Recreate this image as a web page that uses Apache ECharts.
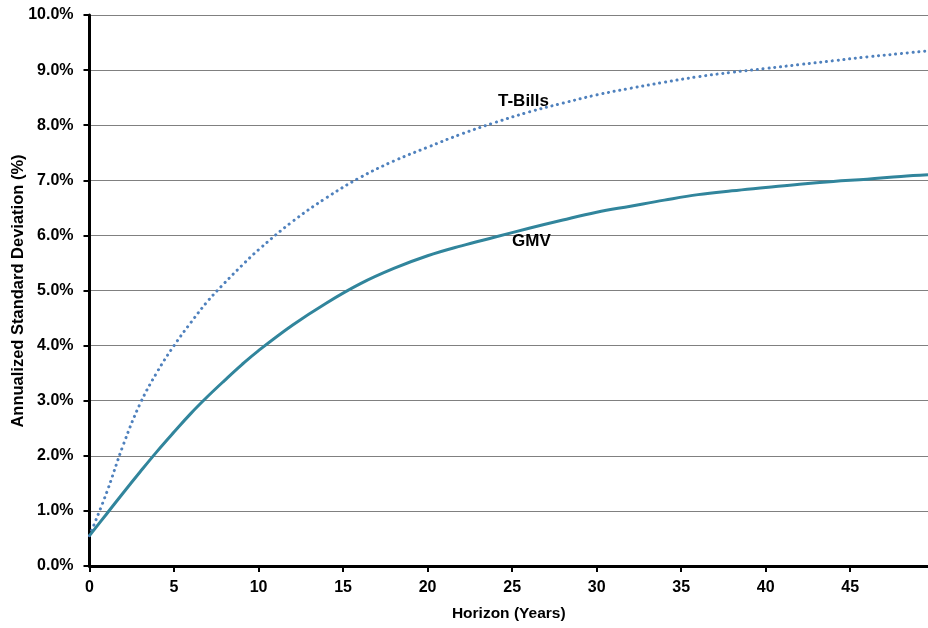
<!DOCTYPE html>
<html><head><meta charset="utf-8">
<script src="https://cdn.jsdelivr.net/npm/echarts@6/dist/echarts.min.js"></script>
<style>html,body{margin:0;padding:0;background:#fff}#c{width:928px;height:628px}</style>
</head><body><div id="c"></div>
<script>
const gmvYears = [0,1,2,3,4,5,6,7,8,9,10,12,14,16,18,20,22,24,26,28,30,32,34,36,38,40,42,44,46,48,49.6];
const gmvValues = [0.55,0.94,1.33,1.71,2.08,2.43,2.77,3.08,3.37,3.65,3.91,4.37,4.77,5.12,5.40,5.63,5.81,5.97,6.13,6.28,6.42,6.53,6.64,6.74,6.81,6.87,6.93,6.98,7.02,7.07,7.10];
const tbillYears = [0,1,2,3,4,5,6,7,8,9,10,12,14,16,18,20,22,24,26,28,30,32,34,36,38,40,42,44,46,48,49.6];
const tbillValues = [0.55,1.32,2.20,2.95,3.52,4.00,4.42,4.81,5.14,5.45,5.74,6.25,6.68,7.05,7.35,7.60,7.84,8.05,8.24,8.40,8.55,8.67,8.78,8.88,8.96,9.03,9.10,9.17,9.24,9.30,9.35];
const seriesNames = ['GMV','T-Bills'];
const xTitle = 'Horizon (Years)';
const yTitle = 'Annualized Standard Deviation (%)';

const font = 'Liberation Sans, Arial, sans-serif';
const chart = echarts.init(document.getElementById('c'), null, {renderer:'canvas'});
chart.setOption({
  animation:false,
  backgroundColor:'#fff',
  grid:{left:89.5, top:15, right:0, bottom:62, containLabel:false, outerBoundsMode:'none'},
  xAxis:{
    type:'value', min:0, max:49.6, interval:5,
    name:xTitle, nameLocation:'middle', nameGap:40,
    nameTextStyle:{fontFamily:font, fontWeight:'bold', fontSize:15.5, color:'#000'},
    axisLine:{lineStyle:{color:'#000', width:3}},
    axisTick:{show:true, length:6, lineStyle:{color:'#000', width:2}},
    axisLabel:{fontFamily:font, fontWeight:'bold', fontSize:16, color:'#000', margin:14, showMaxLabel:false},
    splitLine:{show:false}
  },
  yAxis:{
    type:'value', min:0, max:10, interval:1,
    name:'',
    axisLine:{show:true, lineStyle:{color:'#000', width:3}},
    axisTick:{show:true, length:6, lineStyle:{color:'#000', width:2}},
    axisLabel:{fontFamily:font, fontWeight:'bold', fontSize:16, color:'#000', margin:16,
      formatter:v=>v.toFixed(1)+'%'},
    splitLine:{show:true, lineStyle:{color:'#000', width:1, type:[1,1]}}
  },
  series:[
    {name:seriesNames[0], type:'line', smooth:0.4, showSymbol:false,
     data:gmvYears.map((x,i)=>[x,gmvValues[i]]),
     lineStyle:{color:'#31859C', width:3}, z:3},
    {name:seriesNames[1], type:'line', smooth:0.4, showSymbol:false,
     data:tbillYears.map((x,i)=>[x,tbillValues[i]]),
     lineStyle:{color:'#4F81BD', width:3, type:[0.1,5.7], cap:'round'}, z:2}
  ],
  graphic:[
    {type:'text', x:18, y:291, rotation:Math.PI/2,
     style:{text:yTitle, font:'bold 16.5px '+font, fill:'#000', align:'center', verticalAlign:'middle'}},
    {type:'text', left:498, top:93, style:{text:seriesNames[1], font:'bold 17px '+font, fill:'#000'}},
    {type:'text', left:512, top:233, style:{text:seriesNames[0], font:'bold 17px '+font, fill:'#000'}}
  ]
});
</script></body></html>
